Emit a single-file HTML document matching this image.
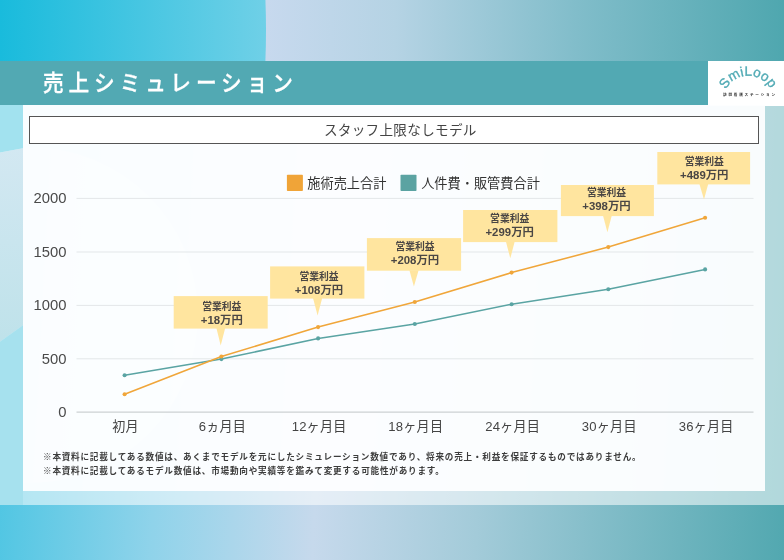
<!DOCTYPE html>
<html lang="ja">
<head>
<meta charset="utf-8">
<title>売上シミュレーション</title>
<style>
html,body{margin:0;padding:0;}
body{width:784px;height:560px;overflow:hidden;position:relative;background:#c6d9ec;font-family:"Liberation Sans","Noto Sans CJK JP",sans-serif;color:#444;}
.bg{position:absolute;left:0;top:0;width:784px;height:560px;background:linear-gradient(93deg,#47c4e2 0%,#8fd3ea 22%,#c6d9ec 42%,#a3cbd9 62%,#52a8b0 100%);}
.topleft{position:absolute;left:-834px;top:-520px;width:1100px;height:1100px;border-radius:50%;background:linear-gradient(90deg,#19bbdc 834px,#6fd0e7 1100px);}
.topband{position:absolute;left:0;top:0;width:784px;height:61px;overflow:hidden;}
.topright{position:absolute;left:266px;top:0;width:518px;height:61px;background:linear-gradient(90deg,#c7d9ee 0%,#b5d3e4 25%,#81bdca 60%,#4fa7af 100%);}
.mid{position:absolute;left:0;top:104px;width:784px;height:401px;overflow:hidden;background:rgba(255,255,255,0.55);}
.s1{position:absolute;left:0;top:0;width:23px;height:401px;background:linear-gradient(180deg,#a2e2ef 0px,#a2e2ef 40px,#d3e8f2 58px,#bfe2ea 215px,#a5e1ee 250px,#a8e1ef 401px);}
.s1a{position:absolute;left:0;top:0;width:23px;height:60px;background:#a2e2ef;clip-path:polygon(0 0,23px 0,23px 44.2px,0 48.5px);}
.s1b{position:absolute;left:0;top:40px;width:23px;height:200px;background:linear-gradient(180deg,#d3e8f2 0px,#bfe2ea 195px);clip-path:polygon(0 8.5px,23px 4.2px,23px 181.2px,0 197.8px);}
.s1c{position:absolute;left:0;top:215px;width:23px;height:186px;background:#a6e1ee;clip-path:polygon(0 22.8px,23px 6.2px,23px 186px,0 186px);}
.cB{position:absolute;left:-138px;top:43px;width:336px;height:336px;border-radius:50%;background:rgba(255,255,255,0.35);}
.header{position:absolute;left:0;top:61px;width:708px;height:44px;background:#52a9b3;}
.logo{position:absolute;left:708px;top:61px;width:76px;height:45.2px;background:#fff;}
.title{position:absolute;left:43.35px;top:62.1px;height:43px;line-height:43px;font-size:22.5px;letter-spacing:5.28px;color:#fff;font-weight:500;white-space:nowrap;transform-origin:0 50%;transform:scaleX(0.92);-webkit-text-stroke:0.3px #fff;}
.panel{position:absolute;left:23px;top:105px;width:742px;height:385.5px;background:rgba(253,254,255,0.94);}
.tbox{position:absolute;left:28.5px;top:116.4px;width:728px;height:25.8px;border:1.5px solid #555;background:#fff;text-align:center;line-height:28.8px;font-size:13.6px;letter-spacing:0.3px;color:#444;box-sizing:content-box;text-indent:13.6px;}
.chart{position:absolute;left:0;top:0;}
.yl{font-size:14.8px;fill:#4a4a4a;font-family:"Liberation Sans",sans-serif;}
.xl{font-size:13.1px;letter-spacing:0.2px;fill:#444;}
.lg{font-size:13.2px;fill:#333;}
.c1{font-size:9.8px;font-weight:700;fill:#4a4644;}
.c2{font-size:11.4px;font-weight:700;fill:#4a4644;}
.note{position:absolute;left:43px;white-space:nowrap;font-size:8.6px;letter-spacing:0.78px;font-weight:700;color:#3c3c3c;line-height:13px;}
.note span{font-weight:400;}
</style>
</head>
<body>
<div class="bg"></div>
<div class="topband"><div class="topright"></div><div class="topleft"></div></div>
<div class="mid">
  <div class="cB"></div><div class="s1a"></div><div class="s1b"></div><div class="s1c"></div>
</div>
<div class="header"></div>
<div class="title">売上シミュレーション</div>
<div class="logo">
<svg width="76" height="44" viewBox="0 0 76 44">
<defs><path id="arc" d="M 17.9 28.6 A 25 25 0 0 1 63 29.3"/></defs>
<text font-family="'Liberation Sans',sans-serif" font-size="13.6" fill="#52abb5" stroke="#52abb5" stroke-width="0.35" letter-spacing="0.1"><textPath href="#arc" startOffset="0">SmiLoop</textPath></text>
<text x="15" y="35.2" font-size="3.6" font-weight="700" fill="#333" letter-spacing="1.8" font-family="'Liberation Sans','Noto Sans CJK JP',sans-serif">訪問看護ステーション</text>
</svg>
</div>
<div class="panel"></div>
<div class="tbox">スタッフ上限なしモデル</div>
<svg class="chart" width="784" height="560" viewBox="0 0 784 560">
<line x1="76.5" x2="753.5" y1="198.4" y2="198.4" stroke="#e3e7e9" stroke-width="1"/>
<text class="yl" x="66.4" y="203.35" text-anchor="end">2000</text>
<line x1="76.5" x2="753.5" y1="252.0" y2="252.0" stroke="#e3e7e9" stroke-width="1"/>
<text class="yl" x="66.4" y="256.95" text-anchor="end">1500</text>
<line x1="76.5" x2="753.5" y1="305.4" y2="305.4" stroke="#e3e7e9" stroke-width="1"/>
<text class="yl" x="66.4" y="310.35" text-anchor="end">1000</text>
<line x1="76.5" x2="753.5" y1="358.8" y2="358.8" stroke="#e3e7e9" stroke-width="1"/>
<text class="yl" x="66.4" y="363.75" text-anchor="end">500</text>
<line x1="76.5" x2="753.5" y1="412.1" y2="412.1" stroke="#c2c6c8" stroke-width="1"/>
<text class="yl" x="66.4" y="417.05" text-anchor="end">0</text>
<text class="xl" x="125.6" y="430.6" text-anchor="middle">初月</text>
<text class="xl" x="222.4" y="430.6" text-anchor="middle">6ヵ月目</text>
<text class="xl" x="319.1" y="430.6" text-anchor="middle">12ヶ月目</text>
<text class="xl" x="415.8" y="430.6" text-anchor="middle">18ヶ月目</text>
<text class="xl" x="512.6" y="430.6" text-anchor="middle">24ヶ月目</text>
<text class="xl" x="609.3" y="430.6" text-anchor="middle">30ヶ月目</text>
<text class="xl" x="706.1" y="430.6" text-anchor="middle">36ヶ月目</text>
<polyline points="124.6,375.2 221.4,359.1 318.1,338.4 414.8,324.0 511.6,304.2 608.3,289.3 705.1,269.4" fill="none" stroke="#5aa4a3" stroke-width="1.55" stroke-linejoin="round" stroke-linecap="round"/><circle cx="124.6" cy="375.2" r="2.05" fill="#5aa4a3"/><circle cx="221.4" cy="359.1" r="2.05" fill="#5aa4a3"/><circle cx="318.1" cy="338.4" r="2.05" fill="#5aa4a3"/><circle cx="414.8" cy="324.0" r="2.05" fill="#5aa4a3"/><circle cx="511.6" cy="304.2" r="2.05" fill="#5aa4a3"/><circle cx="608.3" cy="289.3" r="2.05" fill="#5aa4a3"/><circle cx="705.1" cy="269.4" r="2.05" fill="#5aa4a3"/>
<polyline points="124.6,394.3 221.4,356.5 318.1,327.1 414.8,302.0 511.6,272.6 608.3,247.1 705.1,217.8" fill="none" stroke="#f0a63a" stroke-width="1.55" stroke-linejoin="round" stroke-linecap="round"/><circle cx="124.6" cy="394.3" r="2.05" fill="#f0a63a"/><circle cx="221.4" cy="356.5" r="2.05" fill="#f0a63a"/><circle cx="318.1" cy="327.1" r="2.05" fill="#f0a63a"/><circle cx="414.8" cy="302.0" r="2.05" fill="#f0a63a"/><circle cx="511.6" cy="272.6" r="2.05" fill="#f0a63a"/><circle cx="608.3" cy="247.1" r="2.05" fill="#f0a63a"/><circle cx="705.1" cy="217.8" r="2.05" fill="#f0a63a"/>
<rect x="173.7" y="296.1" width="94.0" height="32.5" fill="#ffe59f"/>
<polygon points="216.4,328.1 225.2,328.1 220.7,345.4" fill="#ffe59f"/>
<text class="c1" x="221.8" y="309.7" text-anchor="middle">営業利益</text>
<text class="c2" x="221.8" y="323.8" text-anchor="middle">+18万円</text>
<rect x="270.1" y="266.4" width="94.3" height="32.2" fill="#ffe59f"/>
<polygon points="313.0,298.1 322.2,298.1 317.6,315.4" fill="#ffe59f"/>
<text class="c1" x="319.0" y="280.1" text-anchor="middle">営業利益</text>
<text class="c2" x="319.0" y="294.1" text-anchor="middle">+108万円</text>
<rect x="366.9" y="238.1" width="94.2" height="32.6" fill="#ffe59f"/>
<polygon points="409.4,270.2 418.6,270.2 413.9,286.5" fill="#ffe59f"/>
<text class="c1" x="415.0" y="250.3" text-anchor="middle">営業利益</text>
<text class="c2" x="415.0" y="264.4" text-anchor="middle">+208万円</text>
<rect x="463.1" y="210.0" width="94.3" height="32.1" fill="#ffe59f"/>
<polygon points="505.9,241.6 514.7,241.6 510.3,258.3" fill="#ffe59f"/>
<text class="c1" x="509.7" y="222.1" text-anchor="middle">営業利益</text>
<text class="c2" x="509.7" y="236.1" text-anchor="middle">+299万円</text>
<rect x="560.9" y="185.0" width="93.0" height="31.1" fill="#ffe59f"/>
<polygon points="603.0,215.6 611.8,215.6 607.4,232.3" fill="#ffe59f"/>
<text class="c1" x="606.5" y="196.0" text-anchor="middle">営業利益</text>
<text class="c2" x="606.5" y="209.8" text-anchor="middle">+398万円</text>
<rect x="657.3" y="152.0" width="92.8" height="32.4" fill="#ffe59f"/>
<polygon points="699.4,183.9 708.2,183.9 704.0,199.5" fill="#ffe59f"/>
<text class="c1" x="704.3" y="165.2" text-anchor="middle">営業利益</text>
<text class="c2" x="704.3" y="179.1" text-anchor="middle">+489万円</text>
<rect x="286.9" y="174.8" width="16" height="16.2" rx="0.8" fill="#f0a438"/>
<text class="lg" x="307.3" y="187.8">施術売上合計</text>
<rect x="400.5" y="174.8" width="16" height="16.2" rx="0.8" fill="#5ba3a2"/>
<text class="lg" x="421.2" y="187.8">人件費<tspan font-weight="300">・</tspan>販管費合計</text>
</svg>
<div class="note" style="top:450.8px"><span>※</span>本資料に記載してある数値は、あくまでモデルを元にしたシミュレーション数値であり、将来の売上・利益を保証するものではありません。</div>
<div class="note" style="top:465.0px"><span>※</span>本資料に記載してあるモデル数値は、市場動向や実績等を鑑みて変更する可能性があります。</div>
</body>
</html>
